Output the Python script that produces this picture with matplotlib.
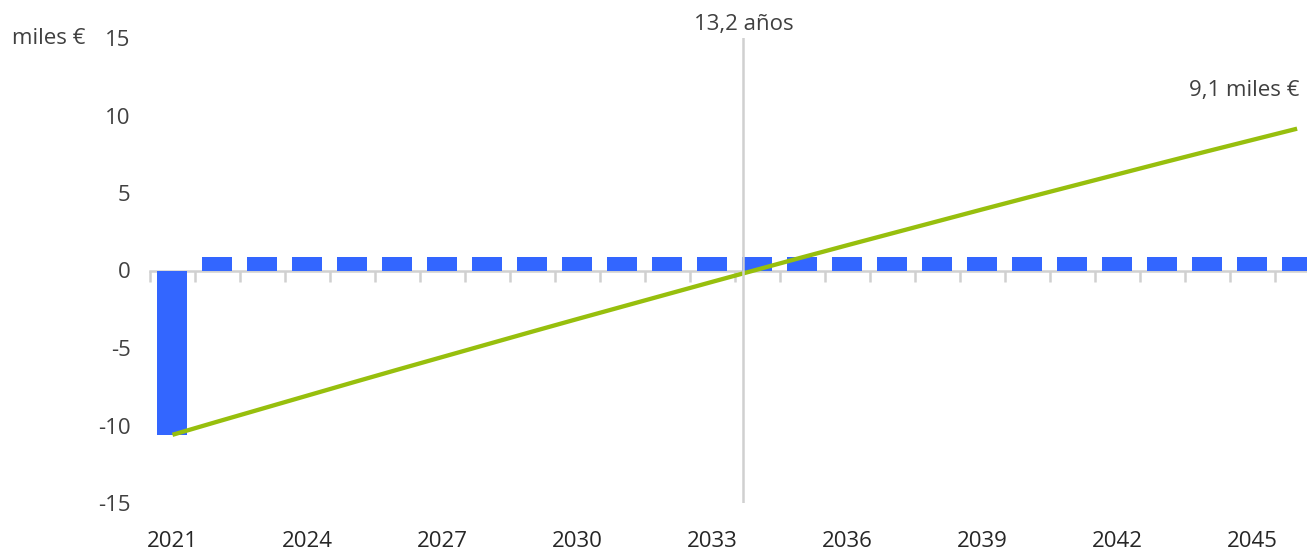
import numpy as np
import matplotlib
matplotlib.use("Agg")
import matplotlib.pyplot as plt

plt.rcParams["font.family"] = ["Open Sans", "DejaVu Sans"]

# years on the category axis
years = list(range(2021, 2047))
# yearly cash flow (miles €): investment then savings
flows = [-10.6] + [0.87] * 25
# cumulative balance (miles €)
cumulative = [-10.60, -9.75, -8.91, -8.07, -7.23, -6.40, -5.58, -4.76, -3.94,
              -3.13, -2.33, -1.53, -0.73, 0.06, 0.85, 1.63, 2.40, 3.17, 3.94,
              4.70, 5.45, 6.20, 6.95, 7.69, 8.42, 9.15]
label_years = [2021, 2024, 2027, 2030, 2033, 2036, 2039, 2042, 2045]
yticks = [-15, -10, -5, 0, 5, 10, 15]
payback_pos = 12.69
payback_label = "13,2 años"
end_label = "9,1 miles €"

blue = "#3366ff"
green = "#97bf0d"
grey = "#d0d0d0"

fig = plt.figure(figsize=(13.07, 5.5), dpi=100)
ax = fig.add_axes([150 / 1307, 47 / 550, 1157 / 1307, 465 / 550])

x = np.arange(len(years))
ax.bar(x, flows, width=0.667, color=blue, zorder=2)
ax.plot(x, cumulative, color=green, lw=3.1, solid_capstyle="butt", zorder=3)
ax.axvline(payback_pos, color=grey, lw=1.8, zorder=4)

# spine sits at zero with marks on category boundaries
for s in ["top", "right", "left"]:
    ax.spines[s].set_visible(False)
ax.spines["bottom"].set_position(("data", 0))
ax.spines["bottom"].set_color(grey)
ax.spines["bottom"].set_linewidth(1.8)
ax.spines["bottom"].set_zorder(1)
ax.set_xticks(np.arange(-0.5, len(years), 1.0))
ax.set_xticklabels([])
ax.tick_params(axis="x", length=8, width=1.8, color=grey, direction="out")

ax.set_yticks(yticks)
ax.set_yticklabels([str(v) for v in yticks])
ax.tick_params(axis="y", length=0, pad=14, labelsize=16, labelcolor="#404040")

# year labels along the bottom
sec = ax.secondary_xaxis("bottom")
sec.spines["bottom"].set_visible(False)
sec.set_xticks([years.index(y) for y in label_years])
sec.set_xticklabels([str(y) for y in label_years])
sec.tick_params(length=0, pad=20, labelsize=16, labelcolor="#262626")

ax.set_xlim(-0.5, 25.22)
ax.set_ylim(-15, 15)

fig.text(12 / 1307, 1 - 38 / 550, "miles €", ha="left", va="center",
         fontsize=16, color="#404040")
ax.text(payback_pos, 15.2, payback_label, ha="center", va="bottom",
        fontsize=16, color="#404040")
ax.text(x[-1] + 0.05, cumulative[-1] + 1.8, end_label, ha="right", va="bottom",
        fontsize=16, color="#404040")

fig.savefig("out.png", dpi=100)
